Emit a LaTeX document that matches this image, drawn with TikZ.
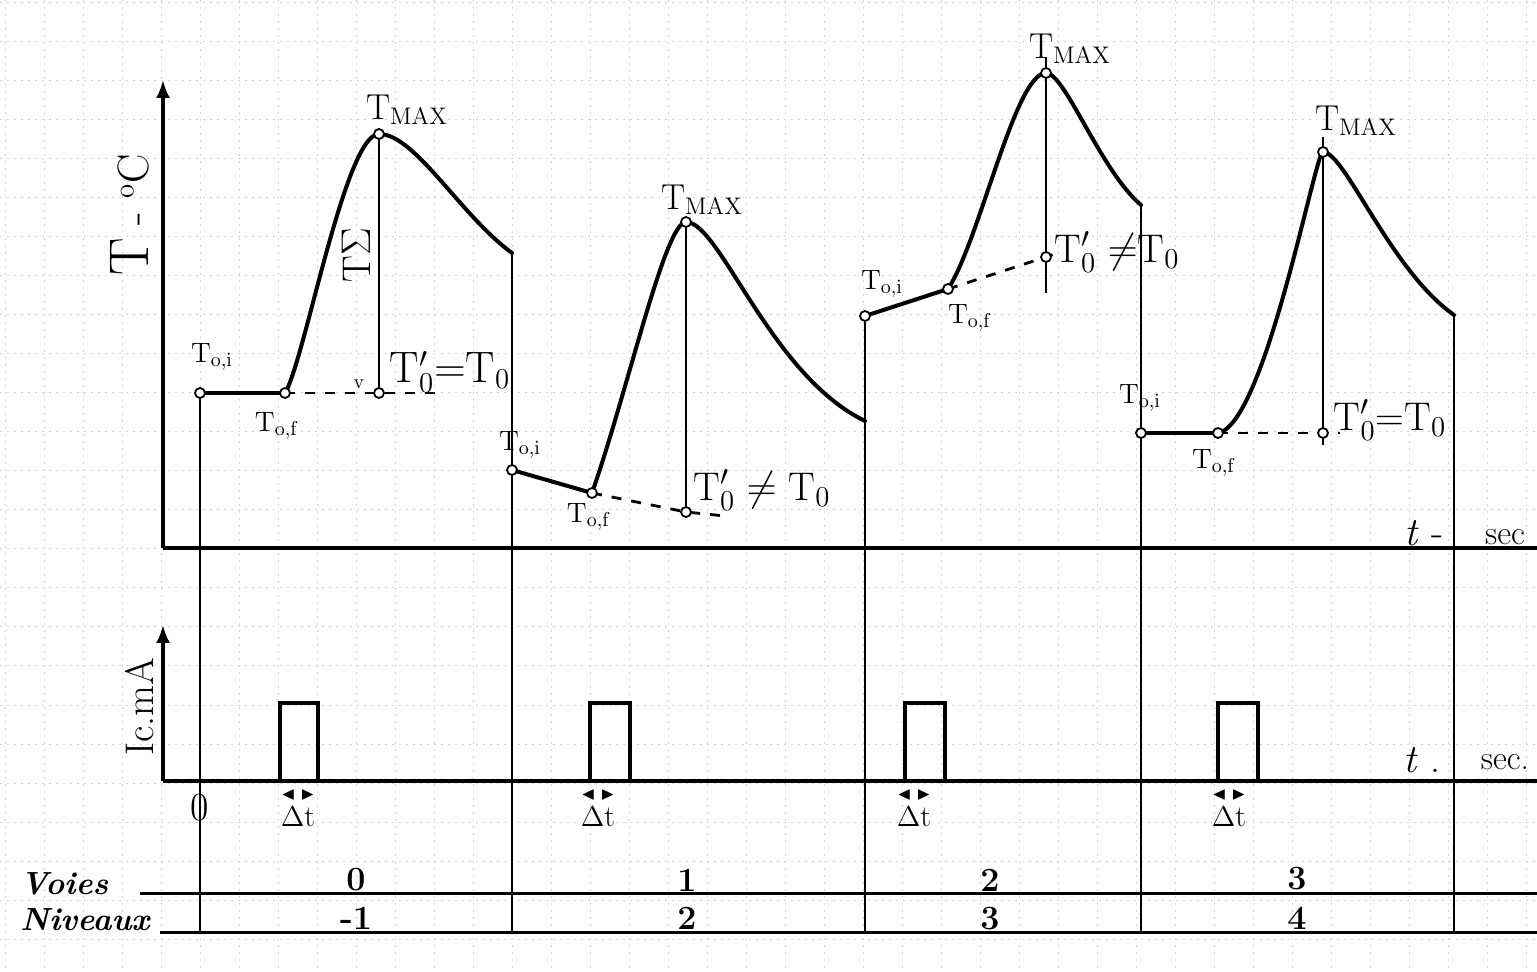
\documentclass[tikz,border=0pt]{standalone}
\usepackage{amssymb}
\usetikzlibrary{arrows.meta}
\begin{document}
\begin{tikzpicture}[x=0.5pt,y=-0.5pt,
  gridl/.style={black!16,line width=0.5pt,dash pattern=on 1pt off 2.5pt},
  curve/.style={line width=2pt,line join=round,line cap=round},
  rulel/.style={line width=1.1pt},
  axis/.style={line width=1.6pt},
  tablel/.style={line width=1.5pt},
  dashl/.style={line width=1.4pt,dash pattern=on 5pt off 5pt},
  pt/.style={circle,draw,fill=white,inner sep=0pt,minimum size=5pt,line width=0.9pt},
  lab/.style={inner sep=1pt,font=\fontsize{14}{16}\selectfont},
  big/.style={inner sep=1pt,font=\fontsize{20}{22}\selectfont},
  tmax/.style={inner sep=1pt,font=\fontsize{18}{20}\selectfont},
  hand/.style={inner sep=1pt,font=\fontsize{16}{18}\selectfont\bfseries\itshape},
  num/.style={inner sep=1pt,font=\fontsize{17}{19}\selectfont\bfseries},
  arr/.style={-{Latex[length=9pt,width=7pt]}}]
\useasboundingbox (0,0) rectangle (1537,972);
% graph paper
\foreach \gx in {5,44,...,1537} \draw[gridl] (\gx,0) -- (\gx,972);
\foreach \gy in {3,42,...,972} \draw[gridl] (0,\gy) -- (1537,\gy);

% axes
\coordinate (O1) at (163,548);
\coordinate (Y1) at (163,80);
\coordinate (X1) at (1537,548);
\coordinate (O2) at (163,781);
\coordinate (Y2) at (163,625);
\coordinate (X2) at (1537,781);
\draw[axis,arr] (O1) -- (Y1);
\draw[axis] (O1) -- (X1);
\draw[axis,arr] (O2) -- (Y2);
\draw[axis] (O2) -- (X2);
\node[rotate=90,inner sep=1pt,font=\fontsize{22}{24}\selectfont] (ylab1) at (130,215) {{\fontsize{28}{30}\selectfont T}\ -\ $^{\mathrm{o}}$C};
\node[rotate=90,inner sep=1pt,font=\fontsize{20}{22}\selectfont] (ylab2) at (140,707) {Ic.mA};
\node[big] (tx1) at (1424,533) {\textit{t} -};
\node[lab,font=\fontsize{17}{19}\selectfont] (sx1) at (1505,537) {sec};
\node[big] (tx2) at (1422,760) {\textit{t} .};
\node[lab,font=\fontsize{17}{19}\selectfont] (sx2) at (1505,762) {sec.};
\node[big] (zero) at (200,808) {0};

% key points
\coordinate (a1) at (200,393); \coordinate (f1) at (285,393);
\coordinate (m1) at (379,134); \coordinate (o1) at (379,393);
\coordinate (e1) at (512,253);
\coordinate (a2) at (512,470); \coordinate (f2) at (592,493);
\coordinate (m2) at (686,222); \coordinate (o2) at (686,512);
\coordinate (e2) at (865,421);
\coordinate (a3) at (865,316); \coordinate (f3) at (948,289);
\coordinate (m3) at (1046,73); \coordinate (o3) at (1046,257);
\coordinate (e3) at (1141,205);
\coordinate (a4) at (1141,433); \coordinate (f4) at (1218,433);
\coordinate (m4) at (1323,152); \coordinate (o4) at (1323,433);
\coordinate (e4) at (1454,315);
\coordinate (b1) at (200,932); \coordinate (b2) at (512,932);
\coordinate (b3) at (865,932); \coordinate (b4) at (1141,932);
\coordinate (b5) at (1454,932);

% channel dividers
\draw[rulel] (a1) -- (b1);
\draw[rulel] (e1) -- (b2);
\draw[rulel] (a3) -- (b3);
\draw[rulel] (e3) -- (b4);
\draw[rulel] (e4) -- (b5);

% table
\coordinate (tv0) at (140,893); \coordinate (tv1) at (1537,893);
\coordinate (tn0) at (160,932); \coordinate (tn1) at (1537,932);
\draw[tablel] (tv0) -- (tv1);
\draw[tablel] (tn0) -- (tn1);
\node[hand,anchor=west] (voies) at (18,884) {Voies};
\node[hand,anchor=west] (niv) at (18,920) {Niveaux};
\node[num] (v0) at (356,880) {0};
\node[num] (v1) at (687,880) {1};
\node[num] (v2) at (990,880) {2};
\node[num] (v3) at (1297,879) {3};
\node[num] (n0) at (356,918) {-1};
\node[num] (n1) at (687,918) {2};
\node[num] (n2) at (990,919) {3};
\node[num] (n3) at (1297,918) {4};

% curve 1
\draw[curve] (a1) -- (f1);
\draw[curve] (f1) .. controls (305,360) and (345,134) .. (m1)
                  .. controls (415,134) and (460,215) .. (e1);
\draw[dashl] (f1) -- (o1) -- (443,393);
\draw[rulel] (m1) -- (o1);
% curve 2
\draw[curve] (a2) -- (f2);
\draw[curve] (f2) .. controls (628,390) and (665,222) .. (m2)
                  .. controls (720,222) and (770,375) .. (e2);
\draw[dashl] (f2) -- (o2) -- (725,516);
\draw[rulel] (m2) -- (o2);
% curve 3
\draw[curve] (a3) -- (f3);
\draw[curve] (f3) .. controls (980,240) and (1015,73) .. (m3)
                  .. controls (1065,73) and (1100,170) .. (e3);
\draw[dashl] (f3) -- (o3) -- (1060,252);
\coordinate (m3t) at (1046,57); \coordinate (o3b) at (1046,293);
\draw[rulel] (m3t) -- (o3b);
% curve 4
\draw[curve] (a4) -- (f4);
\draw[curve] (f4) .. controls (1265,425) and (1315,152) .. (m4)
                  .. controls (1345,152) and (1390,270) .. (e4);
\draw[dashl] (f4) -- (o4) -- (1340,433);
\coordinate (m4t) at (1323,137); \coordinate (o4b) at (1323,445);
\draw[rulel] (m4t) -- (o4b);

% markers
\foreach \p in {a1,f1,m1,o1,a2,f2,m2,o2,a3,f3,m3,o3,a4,f4,m4,o4}
  \node[pt] (\p c) at (\p) {};

% labels
\node[tmax] (L1m) at (407,110) {T$_{\mathrm{MAX}}$};
\node[lab] (L1i) at (212,357) {T$_{\mathrm{o,i}}$};
\node[lab] (L1f) at (277,426) {T$_{\mathrm{o,f}}$};
\node[big] (L1o) at (450,372) {\fontsize{22}{24}\selectfont T$'_{\mathrm{0}}$=T$_{\mathrm{0}}$};
\node[inner sep=1pt,font=\fontsize{10}{11}\selectfont] (L1v) at (359,384) {v};
\node[rotate=90,inner sep=1pt,font=\fontsize{20}{22}\selectfont] (L1s) at (356,255) {T$\Sigma$};

\node[tmax] (L2m) at (702,200) {T$_{\mathrm{MAX}}$};
\node[lab] (L2i) at (520,445) {T$_{\mathrm{o,i}}$};
\node[lab] (L2f) at (589,517) {T$_{\mathrm{o,f}}$};
\node[big] (L2o) at (762,490) {T$'_{\mathrm{0}}\neq$ T$_{\mathrm{0}}$};

\node[tmax] (L3m) at (1070,49) {T$_{\mathrm{MAX}}$};
\node[lab] (L3i) at (882,284) {T$_{\mathrm{o,i}}$};
\node[lab] (L3f) at (970,318) {T$_{\mathrm{o,f}}$};
\node[big] (L3o) at (1117,252) {T$'_{\mathrm{0}}\neq$T$_{\mathrm{0}}$};

\node[tmax] (L4m) at (1356,121) {T$_{\mathrm{MAX}}$};
\node[lab] (L4i) at (1140,398) {T$_{\mathrm{o,i}}$};
\node[lab] (L4f) at (1214,463) {T$_{\mathrm{o,f}}$};
\node[big] (L4o) at (1390,420) {T$'_{\mathrm{0}}$=T$_{\mathrm{0}}$};

% current pulses
\foreach \l/\r/\k in {280/318/1,590/630/2,905/945/3,1218/1258/4}{
  \coordinate (pl\k) at (\l,781); \coordinate (pr\k) at (\r,781);
  \coordinate (pt\k) at (\l,703);
  \draw[line width=1.8pt,line join=miter] (pl\k) -- (pt\k) -| (pr\k);
}
% delta t marks
\foreach \c/\k in {298/1,598/2,914/3,1229/4}{
  \node[inner sep=1pt,font=\fontsize{9}{10}\selectfont] (dm\k) at (\c,795) {$\blacktriangleleft\;\blacktriangleright$};
  \node[lab,font=\fontsize{15}{16}\selectfont] (dt\k) at (\c,817) {$\Delta$t};
}
\end{tikzpicture}
\end{document}
